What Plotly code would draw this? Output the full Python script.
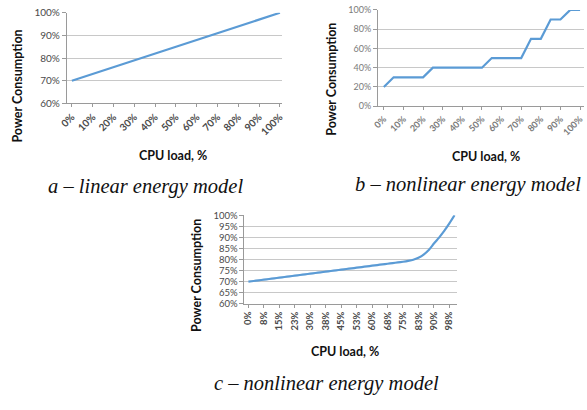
import plotly.graph_objects as go

# ---- data ----
# (a) linear energy model
load_a = [0, 10, 20, 30, 40, 50, 60, 70, 80, 90, 100]
power_a = [70, 73, 76, 79, 82, 85, 88, 91, 94, 97, 100]
ticks_a = [0, 10, 20, 30, 40, 50, 60, 70, 80, 90, 100]
ticktext_a = ["0%", "10%", "20%", "30%", "40%", "50%", "60%", "70%", "80%", "90%", "100%"]

# (b) stepwise nonlinear model, sampled every 5 % of load
load_b = [0, 5, 10, 15, 20, 25, 30, 35, 40, 45, 50, 55, 60, 65, 70, 75, 80, 85, 90, 95, 100]
power_b = [20, 30, 30, 30, 30, 40, 40, 40, 40, 40, 40, 50, 50, 50, 50, 70, 70, 90, 90, 100, 100]
ticks_b = [0, 10, 20, 30, 40, 50, 60, 70, 80, 90, 100]
ticktext_b = ["0%", "10%", "20%", "30%", "40%", "50%", "60%", "70%", "80%", "90%", "100%"]

# (c) smooth nonlinear model, sampled every 2.5 % of load
load_c = [0, 2.5, 5, 7.5, 10, 12.5, 15, 17.5, 20, 22.5, 25, 27.5, 30, 32.5, 35, 37.5,
          40, 42.5, 45, 47.5, 50, 52.5, 55, 57.5, 60, 62.5, 65, 67.5, 70, 72.5, 75,
          77.5, 80, 82.5, 85, 87.5, 90, 92.5, 95, 97.5, 100]
power_c = [70.0, 70.3, 70.6, 70.9, 71.2, 71.5, 71.8, 72.1, 72.4, 72.7, 73.0, 73.3, 73.6,
           73.9, 74.2, 74.5, 74.8, 75.1, 75.4, 75.7, 76.0, 76.3, 76.6, 76.9, 77.2, 77.5,
           77.8, 78.1, 78.4, 78.7, 79.0, 79.4, 79.9, 80.8, 82.2, 84.3, 87.2, 89.9, 92.9,
           96.3, 100.0]
ticks_c = [0, 7.5, 15, 22.5, 30, 37.5, 45, 52.5, 60, 67.5, 75, 82.5, 90, 97.5]
ticktext_c = ["0%", "8%", "15%", "23%", "30%", "38%", "45%", "53%", "60%", "68%", "75%",
              "83%", "90%", "98%"]

captions = ["a \u2013 linear energy model", "b \u2013 nonlinear energy model",
            "c \u2013 nonlinear energy model"]

W, H = 587, 410
LINE = "#5b9bd5"
GRID = "#c8c8c8"
AXIS = "#9a9a9a"
SANS = "Lato, 'Open Sans', sans-serif"
SERIF = "'Liberation Serif', 'DejaVu Serif', serif"


def px(x):
    return x / W


def py(y):
    return 1 - y / H


fig = go.Figure()

panels = [
    # (xdata, ydata, xaxis id, yaxis id, x domain px, y domain px, x range, y range, y dtick,
    #  x ticks, x ticktext, tick angle, tick colour, tick size)
    (load_a, power_a, "x", "y", (60, 279), (7, 100), [-2.4, 100.9], [60, 100], 10,
     ticks_a, ticktext_a, -45, "#4a4a4a", 10),
    (load_b, power_b, "x2", "y2", (377, 587), (4, 103), [-3, 102], [0, 100], 20,
     ticks_b, ticktext_b, -45, "#7a7a7a", 9),
    (load_c, power_c, "x3", "y3", (241, 458), (215, 306), [-1.9, 101.4], [60, 100], 5,
     ticks_c, ticktext_c, -90, "#4a4a4a", 9.5),
]

layout_axes = {}
for i, (xs, ys, xa, ya, xd, yd, xr, yr, dt, tv, tt, ang, tcol, tsz) in enumerate(panels):
    fig.add_trace(go.Scatter(
        x=xs, y=ys, xaxis=xa, yaxis=ya, mode="lines",
        line=dict(color=LINE, width=2.2, shape="spline" if i == 2 else "linear",
                  smoothing=0.6),
        hoverinfo="skip", showlegend=False,
    ))
    xkey = "xaxis" if xa == "x" else "xaxis" + xa[1:]
    ykey = "yaxis" if ya == "y" else "yaxis" + ya[1:]
    layout_axes[xkey] = dict(
        domain=[px(xd[0]), px(xd[1])], range=xr, anchor=ya,
        tickmode="array", tickvals=tv, ticktext=[f"<b>{t}</b>" for t in tt],
        tickangle=ang, tickfont=dict(family=SANS, size=tsz, color=tcol),
        showgrid=False, zeroline=False, showline=True, linecolor=AXIS, linewidth=1,
        ticks="outside", ticklen=3, tickcolor=AXIS,
    )
    layout_axes[ykey] = dict(
        domain=[py(yd[1]), py(yd[0])], range=yr, anchor=xa,
        tickmode="linear", tick0=yr[0], dtick=dt,
        ticksuffix="%", tickfont=dict(family=SANS, size=tsz, color=tcol),
        showgrid=True, gridcolor=GRID, gridwidth=1.3, zeroline=False,
        showline=True, linecolor=AXIS, linewidth=1,
        ticks="outside", ticklen=4, tickcolor=AXIS,
    )

fig.update_layout(**layout_axes)

annotations = []


def label(cx, cy, text, font, angle=0):
    annotations.append(dict(x=px(cx), y=py(cy), xref="paper", yref="paper",
                            xanchor="center", yanchor="middle", text=text,
                            showarrow=False, textangle=angle, font=font))


# axis titles
for (cx, cy) in [(168, 154), (487, 155), (343, 355)]:
    label(cx, cy, "<b>CPU load, %</b>", dict(family=SANS, size=12.5, color="#111111"))
for (cx, cy) in [(10, 82), (330, 75), (192, 277)]:
    label(cx, cy, "<b>Power Consumption</b>", dict(family=SANS, size=12.5, color="#111111"),
          angle=-90)
# panel captions
for text, (cx, cy) in zip(captions, [(140, 185), (469, 183), (325, 388)]):
    label(cx, cy, f"<i>{text}</i>", dict(family=SERIF, size=20.5, color="#111111"))

fig.update_layout(
    width=W, height=H, margin=dict(l=0, r=0, t=0, b=0),
    paper_bgcolor="white", plot_bgcolor="white",
    annotations=annotations,
)

fig.write_html("out.html")
